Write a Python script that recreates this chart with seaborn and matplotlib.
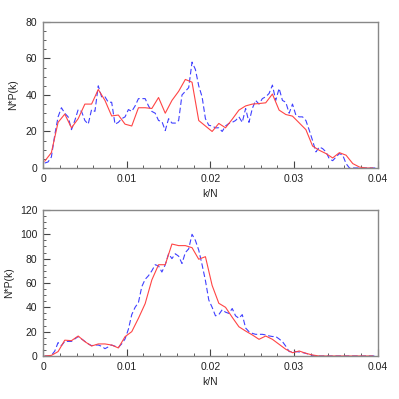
import numpy as np
import pandas as pd
import matplotlib
matplotlib.use("Agg")
import matplotlib.pyplot as plt
from matplotlib.ticker import MultipleLocator
import seaborn as sns

# k/N grids
k_red = np.round(0.0002 + 0.0008 * np.arange(50), 5)
k_blue = np.round(0.0002 + 0.0004 * np.arange(100), 5)

top_red = [3.7, 8.4, 25, 29.5, 22, 27, 35, 35, 43, 37,
           28.5, 29, 24, 23, 33, 33, 32.6, 38.6, 30, 37,
           42, 48.5, 47, 26, 23, 20, 24.4, 22, 26.7, 31.7,
           34, 35, 35.3, 35.7, 40.5, 31.7, 29.3, 28.4, 24.7, 21,
           12, 9.7, 7.9, 5.5, 8.4, 7, 2.4, 0.5, 0, 0]

top_blue = [2.7, 3.3, 6, 18, 28, 33, 30, 28, 21, 26,
            32, 31, 26, 24, 32, 31, 45, 39, 39, 36,
            36, 24, 25, 27, 28, 32, 31, 34, 38, 38,
            38, 34, 31, 30, 26, 25.5, 20.5, 27, 24.6, 24.6,
            26, 40, 42, 44, 58, 54, 45, 39, 27, 23.4,
            23, 22, 22, 20, 23, 24.4, 25, 26, 28, 25,
            32.6, 25, 32.6, 37, 35, 38, 39, 40.8, 45.4, 37,
            43.6, 37, 36, 30, 35, 29, 28, 28, 26, 20.7,
            15, 8.8, 11.5, 10.6, 8.8, 5, 4, 6, 7.9, 7,
            2.4, 0, 0, 0, 0, 0, 0, 0, 0, 0]

bot_red = [0, 0.5, 3.6, 13, 12.6, 16.4, 11.8, 8.2, 9.9, 9.9,
           9, 6.6, 15.9, 20, 31, 43, 62.5, 75, 75, 92,
           90.7, 90.7, 89, 79.5, 81.6, 58, 43.3, 40, 31.8, 24,
           20.5, 17.3, 13.7, 16.4, 13.7, 9.6, 5.5, 2.7, 4.1, 2.2,
           0.8, 0, 0, 0, 0, 0, 0, 0, 0, 0]

bot_blue = [0, 0, 0.5, 4, 11, 8.5, 12, 12, 12, 14,
            16, 14, 12, 10, 8.5, 9, 9, 8, 6, 7.5,
            9, 8, 7, 10, 14, 22, 34, 40, 44, 57,
            63, 66, 70, 75, 74, 69, 75, 84, 80, 84,
            82, 76, 85, 88, 100, 95, 87, 75, 62, 46,
            40, 33, 34, 38, 36, 35, 39, 33, 31, 34,
            23, 20, 18.6, 17.8, 17.8, 17.8, 17.3, 16.5, 16, 16,
            14, 11.8, 8, 3.6, 3.6, 3.6, 3.3, 2.8, 2.2, 1.2,
            0.5, 0, 0, 0, 0, 0, 0, 0, 0, 0,
            0, 0, 0, 0, 0, 0, 0, 0, 0, 0]

xticks = [0, 0.01, 0.02, 0.03, 0.04]
xtick_labels = ["0", "0.01", "0.02", "0.03", "0.04"]
top_yticks = [0, 20, 40, 60, 80]
bot_yticks = [0, 20, 40, 60, 80, 100, 120]

sns.set_style("white")
plt.rcParams["font.family"] = ["Liberation Sans", "DejaVu Sans"]

fig = plt.figure(figsize=(3.99, 3.99), dpi=100)
ax1 = fig.add_axes([0.1078, 0.579, 0.8393, 0.366])
ax2 = fig.add_axes([0.1078, 0.1078, 0.8393, 0.366])

RED = "#ff4545"
BLUE = "#4040ff"

for ax, red, blue, yt, ylx in [(ax1, top_red, top_blue, top_yticks, -0.075),
                               (ax2, bot_red, bot_blue, bot_yticks, -0.085)]:
    sns.lineplot(x=k_blue, y=blue, ax=ax, color=BLUE, lw=0.8,
                 linestyle=(0, (5, 2.5)), estimator=None)
    sns.lineplot(x=k_red, y=red, ax=ax, color=RED, lw=0.8, estimator=None)
    ax.set_xlim(0, 0.04)
    ax.set_ylim(yt[0], yt[-1])
    ax.set_xticks(xticks)
    ax.set_xticklabels(xtick_labels)
    ax.set_yticks(yt)
    ax.set_yticklabels([str(v) for v in yt])
    ax.xaxis.set_minor_locator(MultipleLocator(0.002))
    ax.yaxis.set_minor_locator(MultipleLocator(5))
    ax.tick_params(which="both", bottom=True, left=True, top=False, right=False)
    ax.tick_params(which="major", direction="in", length=5, width=0.8,
                   color="#444444", labelsize=7.5, labelcolor="#222222", pad=4)
    ax.tick_params(which="minor", direction="in", length=2.5, width=0.6,
                   color="#444444")
    for s in ax.spines.values():
        s.set_visible(True)
        s.set_color("#888888")
        s.set_linewidth(1.0)
    ax.set_xlabel("k/N", fontsize=7.5, color="#222222", labelpad=4)
    ax.set_ylabel("N*P(k)", fontsize=7.5, color="#222222")
    ax.yaxis.set_label_coords(ylx, 0.5)

fig.savefig("out.png", dpi=100)
